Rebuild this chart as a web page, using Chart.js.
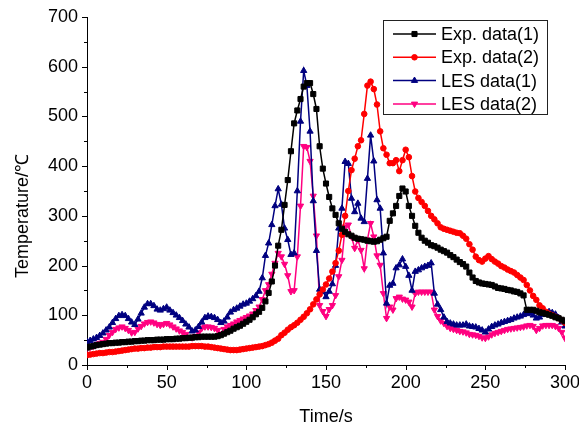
<!DOCTYPE html>
<html><head><meta charset="utf-8">
<script src="https://cdn.jsdelivr.net/npm/chart.js@4.4.1/dist/chart.umd.min.js"></script>
<style>html,body{margin:0;padding:0;background:#fff;}canvas{display:block;}</style>
</head><body>
<canvas id="c" width="579" height="428"></canvas>
<script>
const times = [
0,2,4,6,8,10,12,14,16,18,
20,22,24,26,28,30,32,34,36,38,
40,42,44,46,48,50,52,54,56,58,
60,62,64,66,68,70,72,74,76,78,
80,82,84,86,88,90,92,94,96,98,
100,102,104,106,108,110,112,114,116,118,
120,122,124,126,128,130,132,134,136,138,
140,142,144,146,148,150,152,154,156,158,
160,162,164,166,168,170,172,174,176,178,
180,182,184,186,188,190,192,194,196,198,
200,202,204,206,208,210,212,214,216,218,
220,222,224,226,228,230,232,234,236,238,
240,242,244,246,248,250,252,254,256,258,
260,262,264,266,268,270,272,274,276,278,
280,282,284,286,288,290,292,294,296,298,
300];

const expData1 = [
35,37,38,40,41,42,43,44,44,45,
45,46,46,47,47,48,48,49,49,50,
50,50,51,51,51,52,52,52,53,53,
54,54,55,55,56,56,57,57,57,57,
57,58,60,63,66,69,73,76,79,83,
87,91,96,102,107,115,128,145,168,200,
240,272,322,372,430,486,512,535,560,567,
567,545,515,440,395,365,338,315,302,285,
274,268,263,260,256,254,253,252,250,249,
248,249,252,255,258,290,305,320,340,355,
349,320,300,280,266,256,250,246,241,239,
236,232,229,226,221,217,212,207,203,198,
186,176,169,166,164,163,162,161,158,155,
154,153,151,150,148,147,144,140,111,111,
111,109,106,105,103,101,99,96,94,91,
88];

const expData2 = [
20,21,22,23,24,24,25,26,26,27,
28,29,30,31,32,33,33,34,34,35,
35,36,36,36,37,37,37,37,37,37,
37,37,37,38,38,38,38,37,37,36,
35,34,33,32,31,30,30,30,31,32,
33,34,35,36,37,38,40,42,45,49,
53,60,65,71,76,80,85,91,97,104,
112,122,132,142,152,162,174,188,205,230,
262,300,350,392,415,440,452,505,562,570,
555,524,470,436,423,406,406,412,390,412,
433,418,380,349,336,328,320,310,300,293,
285,277,274,272,270,268,266,265,260,254,
243,232,218,211,208,214,219,213,208,204,
199,196,192,189,186,181,176,171,161,150,
139,131,120,114,107,103,100,97,94,90,
85];

const lesData1 = [
47,49,52,55,59,64,70,76,85,93,
99,101,99,93,86,81,92,104,116,123,
123,119,112,110,113,116,110,105,100,95,
89,82,76,68,70,77,86,95,98,97,
95,91,85,88,96,106,111,114,118,122,
124,128,133,139,148,175,220,245,282,320,
354,323,275,252,222,225,350,490,592,562,
470,330,230,152,148,137,148,163,200,275,
315,409,405,335,308,325,295,288,375,462,
410,332,315,225,124,160,164,195,201,213,
198,180,150,188,191,195,198,200,205,144,
122,111,96,87,84,82,80,80,80,82,
78,77,76,73,70,66,72,77,80,82,
85,87,89,91,94,96,98,101,103,104,
100,94,96,101,104,107,105,102,95,86,
78];

const lesData2 = [
34,36,38,41,44,46,52,60,66,72,
75,77,74,70,65,66,73,78,83,86,
87,85,82,80,82,84,81,77,73,69,
66,62,56,55,58,65,74,77,77,76,
74,70,63,72,77,80,83,87,90,93,
96,99,103,110,117,132,150,162,183,205,
225,218,203,180,148,150,218,320,440,438,
410,340,260,120,108,98,112,120,140,178,
211,278,282,258,235,252,231,194,252,285,
258,220,201,144,94,117,111,134,137,133,
131,127,117,144,147,147,147,147,147,111,
98,89,84,78,74,72,70,68,67,65,
62,61,60,58,55,54,57,61,64,66,
68,70,72,73,74,75,76,77,79,80,
78,70,74,79,80,80,80,78,74,66,
54];

const seriesLabels = ['Exp. data(1)', 'Exp. data(2)', 'LES data(1)', 'LES data(2)'];
const xTickStep = 50, xMinorStep = 25, yTickStep = 100, yMinorStep = 50;
const xTitle = 'Time/s', yTitle = 'Temperature/\u2103';

const FONT = '"Liberation Sans", Arial, Helvetica, sans-serif';
const toXY = arr => arr.map((v, i) => ({x: times[i], y: v}));

const styles = [
  {color: '#000000', pointStyle: 'rect', radius: 3.6, rotation: 0},
  {color: '#ff0000', pointStyle: 'circle', radius: 2.8, rotation: 0},
  {color: '#000080', pointStyle: 'triangle', radius: 3.6, rotation: 0},
  {color: '#ff0080', pointStyle: 'triangle', radius: 3.6, rotation: 180}
];
const allData = [expData1, expData2, lesData1, lesData2];

const datasets = allData.map((d, i) => ({
  label: seriesLabels[i],
  data: toXY(d),
  borderColor: styles[i].color,
  backgroundColor: styles[i].color,
  pointBackgroundColor: styles[i].color,
  pointBorderColor: styles[i].color,
  pointStyle: styles[i].pointStyle,
  pointRadius: styles[i].radius,
  pointRotation: styles[i].rotation,
  pointBorderWidth: 1,
  borderWidth: 1.5,
  tension: 0,
  fill: false
}));

const minorTicks = {
  id: 'minorTicks',
  afterDraw(chart) {
    const ctx = chart.ctx;
    const xs = chart.scales.x, ys = chart.scales.y;
    ctx.save();
    ctx.strokeStyle = '#000';
    ctx.lineWidth = 1;
    ctx.beginPath();
    for (let v = xs.min; v <= xs.max + 1e-9; v += xMinorStep) {
      const p = Math.round(xs.getPixelForValue(v)) + 0.5;
      const len = (v % xTickStep === 0) ? 5 : 3;
      ctx.moveTo(p, ys.bottom);
      ctx.lineTo(p, ys.bottom + len);
    }
    for (let v = ys.min; v <= ys.max + 1e-9; v += yMinorStep) {
      const p = Math.round(ys.getPixelForValue(v)) + 0.5;
      const len = (v % yTickStep === 0) ? 5 : 3;
      ctx.moveTo(xs.left, p);
      ctx.lineTo(xs.left - len, p);
    }
    ctx.stroke();
    // y-axis title
    ctx.translate(23, 216);
    ctx.rotate(-Math.PI / 2);
    ctx.font = '18px ' + FONT;
    ctx.fillStyle = '#000';
    ctx.textAlign = 'center';
    ctx.textBaseline = 'middle';
    ctx.fillText(yTitle, 0, 0);
    ctx.restore();
  }
};

const boxLegend = {
  id: 'boxLegend',
  afterDraw(chart) {
    const ctx = chart.ctx;
    const bx = 383.5, by = 20.5, bw = 164, bh = 94;
    ctx.save();
    ctx.fillStyle = '#fff';
    ctx.fillRect(bx, by, bw, bh);
    ctx.strokeStyle = '#222';
    ctx.lineWidth = 1;
    ctx.strokeRect(bx, by, bw, bh);
    ctx.font = '18px ' + FONT;
    ctx.textBaseline = 'middle';
    ctx.textAlign = 'left';
    chart.data.datasets.forEach((ds, i) => {
      const y = 34 + i * 23.3;
      ctx.strokeStyle = ds.borderColor;
      ctx.lineWidth = 1.5;
      ctx.beginPath();
      ctx.moveTo(393, y);
      ctx.lineTo(436, y);
      ctx.stroke();
      ctx.fillStyle = ds.borderColor;
      ctx.strokeStyle = ds.borderColor;
      ctx.lineWidth = 1;
      Chart.helpers.drawPoint(ctx, {pointStyle: ds.pointStyle, radius: ds.pointRadius, rotation: ds.pointRotation, borderWidth: 1}, 414.5, y);
      ctx.fillStyle = '#000';
      ctx.fillText(ds.label, 441, y + 1);
    });
    ctx.restore();
  }
};

new Chart(document.getElementById('c'), {
  type: 'line',
  data: {datasets},
  options: {
    responsive: false,
    animation: false,
    devicePixelRatio: 1,
    layout: {padding: {top: 17, right: 14, left: 0, bottom: 0}},
    plugins: {legend: {display: false}, tooltip: {enabled: false}},
    scales: {
      x: {
        type: 'linear', min: 0, max: 300,
        ticks: {stepSize: xTickStep, color: '#000', font: {family: FONT, size: 18}, padding: 7, maxRotation: 0, autoSkip: false},
        grid: {drawOnChartArea: false, drawTicks: false},
        border: {color: '#000', width: 1},
        title: {display: true, text: xTitle, color: '#000', font: {family: FONT, size: 18}, padding: {top: 0, bottom: 0}},
        afterFit(s) { s.height = 63; s.paddingLeft = 0; s.paddingRight = 0; }
      },
      y: {
        min: 0, max: 700,
        ticks: {stepSize: yTickStep, color: '#000', font: {family: FONT, size: 18}, padding: 9},
        grid: {drawOnChartArea: false, drawTicks: false},
        border: {color: '#000', width: 1},
        title: {display: false},
        afterFit(s) { s.width = 87; s.paddingTop = 0; s.paddingBottom = 0; }
      }
    }
  },
  plugins: [minorTicks, boxLegend]
});
</script>
</body></html>
